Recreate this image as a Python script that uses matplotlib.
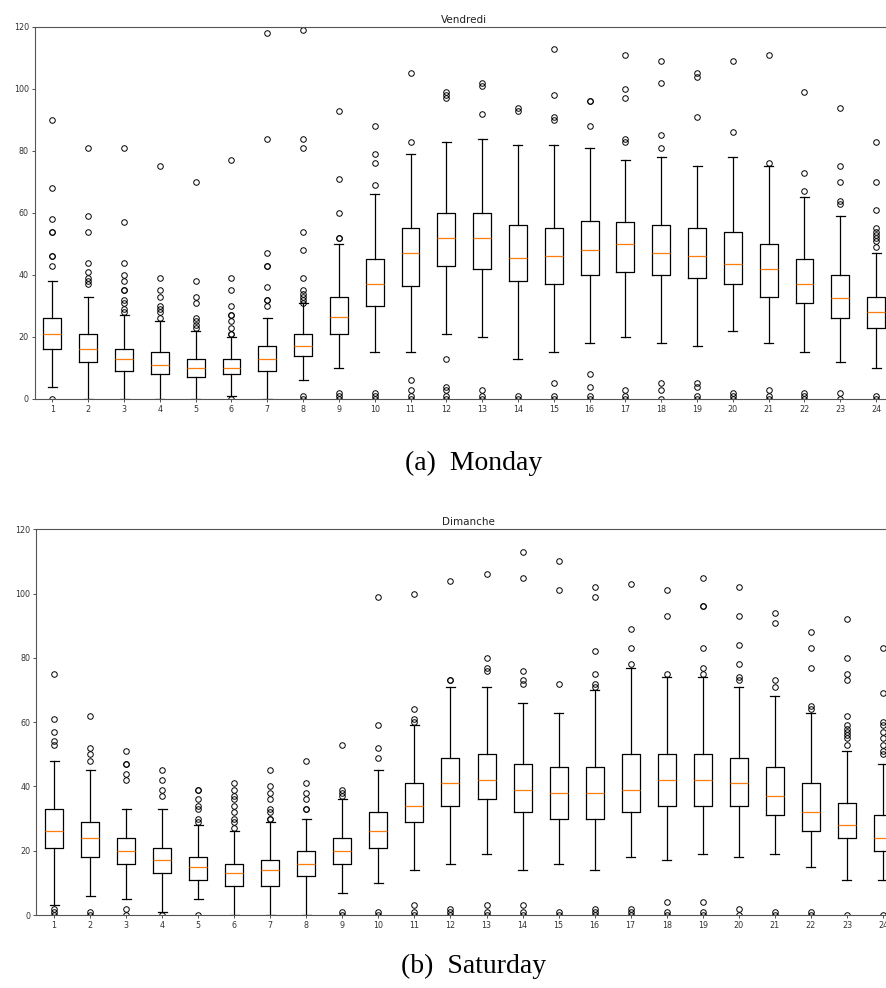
import matplotlib
matplotlib.use("Agg")
import matplotlib.pyplot as plt

hours = list(range(1, 25))

# ---- Vendredi (top panel) ----
fri_lo = [4, 0, 0, 0, 0, 1, 0, 6, 10, 15, 15, 21, 20, 13, 15, 18, 20, 18, 17, 22, 18, 15, 12, 10]
fri_q1 = [16, 12, 9, 8, 7, 8, 9, 14, 21, 30, 36.5, 43, 42, 38, 37, 40, 41, 40, 39, 37, 33, 31, 26, 23]
fri_med = [21, 16, 13, 11, 10, 10, 13, 17, 26.3, 37, 47, 52, 52, 45.4, 46, 48, 50, 47, 46, 43.5, 42, 37, 32.5, 28]
fri_q3 = [26, 21, 16, 15, 13, 13, 17, 21, 33, 45, 55, 60, 60, 56, 55, 57.3, 57, 56, 55, 54, 50, 45, 40, 33]
fri_hi = [38, 33, 27, 25, 22, 20, 26, 31, 50, 66, 79, 83, 84, 82, 82, 81, 77, 78, 75, 78, 75, 65, 59, 47]
fri_fliers = [
    [90, 68, 58, 54, 54, 46, 46, 43, 0],
    [81, 59, 54, 44, 41, 39, 38, 37],
    [81, 57, 44, 40, 38, 35, 35, 32, 31, 29, 28],
    [75, 39, 35, 33, 30, 29, 28, 26],
    [70, 38, 33, 31, 26, 25, 24, 23],
    [77, 39, 35, 30, 27, 27, 25, 23, 21, 21, 0],
    [118, 84, 47, 43, 43, 36, 32, 32, 30],
    [119, 84, 81, 54, 48, 39, 35, 34, 33, 32, 31, 1, 0],
    [93, 71, 60, 52, 52, 2, 1, 0],
    [88, 79, 76, 69, 2, 1, 0],
    [105, 83, 6, 3, 1, 0],
    [99, 98, 97, 13, 4, 3, 1, 0],
    [102, 101, 92, 3, 1, 0],
    [94, 93, 1, 0],
    [113, 98, 91, 90, 5, 1, 0],
    [96, 96, 88, 8, 4, 1, 0],
    [111, 100, 97, 84, 83, 3, 1, 0],
    [109, 102, 85, 81, 5, 3, 0],
    [105, 104, 91, 5, 4, 1, 0],
    [109, 86, 2, 1, 0],
    [111, 76, 3, 1, 0],
    [99, 73, 67, 2, 1, 0],
    [94, 75, 70, 64, 63, 2, 0],
    [83, 70, 61, 55, 54, 53, 52, 51, 49, 1, 0],
]

# ---- Dimanche (bottom panel) ----
sun_lo = [3, 6, 5, 1, 5, 0, 0, 0, 7, 10, 14, 16, 19, 14, 16, 14, 18, 17, 19, 18, 19, 15, 11, 11]
sun_q1 = [21, 18, 16, 13, 11, 9, 9, 12, 16, 21, 29, 34, 36, 32, 30, 30, 32, 34, 34, 34, 31, 26, 24, 20]
sun_med = [26, 24, 20, 17, 15, 13, 14, 16, 20, 26, 34, 41, 42, 39, 38, 38, 39, 42, 42, 41, 37, 32, 28, 24]
sun_q3 = [33, 29, 24, 21, 18, 16, 17, 20, 24, 32, 41, 49, 50, 47, 46, 46, 50, 50, 50, 49, 46, 41, 35, 31]
sun_hi = [48, 45, 33, 33, 28, 26, 29, 30, 36, 45, 59, 71, 71, 66, 63, 70, 77, 74, 74, 71, 68, 63, 51, 47]
sun_fliers = [
    [75, 61, 57, 54, 53, 2, 1, 0],
    [62, 52, 50, 48, 1, 0],
    [51, 47, 47, 44, 42, 2, 0],
    [45, 42, 39, 37, 0],
    [39, 39, 36, 34, 33, 30, 29, 0],
    [41, 39, 37, 36, 34, 32, 30, 29, 27],
    [45, 40, 38, 36, 33, 32, 30, 30],
    [48, 41, 38, 36, 33, 33],
    [53, 39, 38, 37, 1, 0],
    [99, 59, 52, 49, 1, 0],
    [100, 64, 61, 60, 3, 1, 0],
    [104, 73, 73, 2, 1, 0],
    [106, 80, 77, 76, 3, 1, 0],
    [113, 105, 76, 73, 72, 3, 1, 0],
    [110, 101, 72, 1, 0],
    [102, 99, 82, 75, 72, 71, 2, 1, 0],
    [103, 89, 83, 78, 2, 1, 0],
    [101, 93, 75, 4, 1, 0],
    [105, 96, 96, 83, 77, 75, 4, 1, 0],
    [102, 93, 84, 78, 74, 73, 2, 0],
    [94, 91, 73, 71, 1, 0],
    [88, 83, 77, 65, 64, 1, 0],
    [92, 80, 75, 73, 62, 59, 58, 57, 56, 55, 53, 0],
    [83, 69, 60, 59, 57, 55, 53, 51, 50, 0],
]

panels = [
    ("Vendredi", "(a)  Monday", fri_lo, fri_q1, fri_med, fri_q3, fri_hi, fri_fliers),
    ("Dimanche", "(b)  Saturday", sun_lo, sun_q1, sun_med, sun_q3, sun_hi, sun_fliers),
]

W, H = 886, 988
fig = plt.figure(figsize=(W / 100, H / 100), dpi=100)

# axes boxes in pixels: (left, right, top, bottom)
ax_px = [(34.5, 894, 27, 399), (36, 901, 529.3, 915)]
cap_y = [463, 966]
cap_x = 474

for (title, caption, lo, q1, med, q3, hi, fl), (l, r, t, b), cy in zip(panels, ax_px, cap_y):
    ax = fig.add_axes([l / W, 1 - b / H, (r - l) / W, (b - t) / H])
    stats = []
    for i in range(len(hours)):
        stats.append(dict(med=med[i], q1=q1[i], q3=q3[i], whislo=lo[i], whishi=hi[i],
                          fliers=fl[i], label=str(hours[i])))
    ax.bxp(stats, positions=hours, widths=0.5, showfliers=True,
           boxprops=dict(linewidth=0.9, color="black"),
           whiskerprops=dict(linewidth=0.9, color="black"),
           capprops=dict(linewidth=0.9, color="black"),
           medianprops=dict(linewidth=0.9, color="#ff7f0e"),
           flierprops=dict(marker="o", markersize=4, markerfacecolor="none",
                           markeredgecolor="black", markeredgewidth=0.7))
    ax.set_xlim(0.5, 24.5)
    ax.set_ylim(0, 120)
    ax.set_yticks([0, 20, 40, 60, 80, 100, 120])
    ax.tick_params(labelsize=5.8, length=2.5, width=0.6, pad=1.5, colors="#333333")
    for s in ax.spines.values():
        s.set_linewidth(0.8)
        s.set_color("#555555")
    ax.set_title(title, fontsize=7.5, pad=3, color="#222222")
    fig.text(cap_x / W, 1 - cy / H, caption, ha="center", va="center",
             fontsize=20, family="Liberation Serif")

fig.savefig("out.png", dpi=100)
